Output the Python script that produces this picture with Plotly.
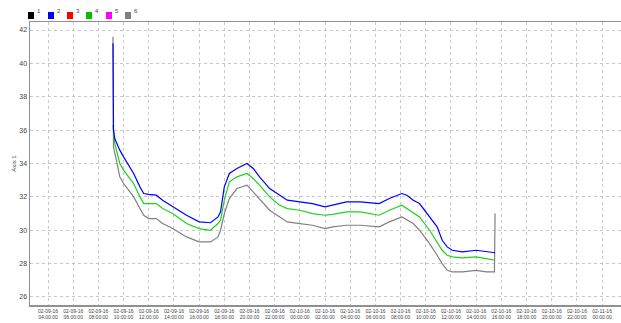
import plotly.graph_objects as go

# time in hours from 02-09 00:00
hours = [9.16, 9.2, 9.3, 9.4, 9.7, 10.0, 10.4, 10.8, 11.3, 11.6, 12.0, 12.6, 13.1, 13.9, 15.0,
         16.0, 16.9, 17.5, 17.7, 18.0, 18.4, 19.0, 19.8, 20.3, 20.8, 21.6, 22.4, 23.0, 24.0,
         25.0, 26.0, 26.6, 27.7, 28.8, 30.3, 31.1, 32.1, 32.5, 33.0, 33.5, 34.3, 34.9, 35.3,
         35.7, 36.1, 36.9, 38.0, 38.8, 39.45, 39.5]

series2 = [41.2, 36.0, 35.5, 35.3, 34.8, 34.4, 33.9, 33.4, 32.6, 32.2, 32.15, 32.1, 31.8, 31.4, 30.9,
           30.5, 30.45, 30.8, 31.1, 32.6, 33.4, 33.7, 34.0, 33.7, 33.2, 32.5, 32.1, 31.8, 31.7,
           31.6, 31.4, 31.5, 31.7, 31.7, 31.6, 31.9, 32.2, 32.1, 31.8, 31.6, 30.8, 30.2, 29.4,
           29.0, 28.8, 28.7, 28.8, 28.7, 28.65, 28.65]

series4 = [36.3, 35.9, 35.2, 34.9, 34.0, 33.6, 33.2, 32.8, 32.0, 31.6, 31.6, 31.6, 31.3, 31.0, 30.4,
           30.1, 30.0, 30.4, 30.6, 31.8, 32.9, 33.2, 33.4, 33.1, 32.7, 32.0, 31.5, 31.3, 31.2,
           31.0, 30.9, 30.95, 31.1, 31.1, 30.9, 31.2, 31.5, 31.3, 31.1, 30.8, 30.0, 29.3, 28.8,
           28.5, 28.4, 28.35, 28.4, 28.3, 28.2, 28.2]

series6 = [41.6, 35.0, 34.6, 34.3, 33.2, 32.8, 32.4, 32.0, 31.3, 30.9, 30.7, 30.7, 30.4, 30.1, 29.6,
           29.3, 29.3, 29.6, 30.0, 31.0, 31.9, 32.5, 32.7, 32.3, 31.9, 31.2, 30.8, 30.5, 30.4,
           30.3, 30.1, 30.2, 30.3, 30.3, 30.2, 30.5, 30.8, 30.6, 30.4, 30.0, 29.2, 28.5, 28.0,
           27.6, 27.5, 27.5, 27.6, 27.5, 27.5, 31.0]

legend_names = ["1", "2", "3", "4", "5", "6"]
legend_colors = ["#000000", "#0000FF", "#FF0000", "#00C000", "#FF00FF", "#808080"]

tick_hours = list(range(4, 49, 2))
def fmt(h):
    day = 9 + h // 24
    return "02-%02d-16<br>%02d:00:00" % (day, h % 24)
tick_text = [fmt(h) for h in tick_hours]

y_ticks = list(range(26, 43, 2))

fig = go.Figure()
fig.add_trace(go.Scatter(x=hours, y=series6, mode="lines", line=dict(color="#808080", width=1.2), showlegend=False))
fig.add_trace(go.Scatter(x=hours, y=series4, mode="lines", line=dict(color="#1ED21E", width=1.2), showlegend=False))
fig.add_trace(go.Scatter(x=hours, y=series2, mode="lines", line=dict(color="#0000FF", width=1.2), showlegend=False))

FONT = "Liberation Sans Narrow, Arial Narrow, Liberation Sans, sans-serif"

# legend drawn as small squares + labels above the plot
plot_x0, plot_w = 30, 591
plot_y1, plot_h = 305, 283
legend_px = [31, 51, 70, 89, 109, 128]
shapes = []
annotations = []
for name, col, px in zip(legend_names, legend_colors, legend_px):
    shapes.append(dict(type="rect", xref="paper", yref="paper",
                       x0=(px - 3 - plot_x0) / plot_w, x1=(px + 3 - plot_x0) / plot_w,
                       y0=(plot_y1 - 19) / plot_h, y1=(plot_y1 - 12) / plot_h,
                       fillcolor=col, line=dict(width=0)))
    annotations.append(dict(xref="paper", yref="paper", x=(px + 4 - plot_x0) / plot_w,
                            y=(plot_y1 - 11) / plot_h, text=name, showarrow=False,
                            xanchor="left", yanchor="middle",
                            font=dict(size=6, color="#444", family=FONT)))

fig.update_layout(
    width=621, height=323,
    margin=dict(l=30, r=0, t=22, b=18, autoexpand=False),
    paper_bgcolor="white", plot_bgcolor="white",
    shapes=shapes, annotations=annotations,
    showlegend=False,
    font=dict(family=FONT, size=6, color="#444"),
)
fig.update_xaxes(range=[2.57, 49.5], tickvals=tick_hours, ticktext=tick_text, automargin=False,
                 showgrid=True, gridcolor="#c8c8c8", griddash="dot", gridwidth=1,
                 showline=True, linecolor="#909090", linewidth=1.5, mirror=True,
                 ticks="", ticklen=0, tickfont=dict(size=5, color="#444", family=FONT), zeroline=False)
fig.update_yaxes(range=[25.52, 42.48], tickvals=y_ticks, automargin=False,
                 showgrid=True, gridcolor="#c8c8c8", griddash="dot", gridwidth=1,
                 showline=True, linecolor="#909090", linewidth=1.5, mirror=True,
                 ticks="", tickfont=dict(size=7, color="#444", family=FONT), zeroline=False,
                 title=dict(text="Axis 1", font=dict(size=6, color="#444", family=FONT), standoff=2))

fig.write_html("out.html", config={"displayModeBar": False, "staticPlot": True},
               post_script="document.body.style.margin='0';document.body.style.overflow='hidden';")
